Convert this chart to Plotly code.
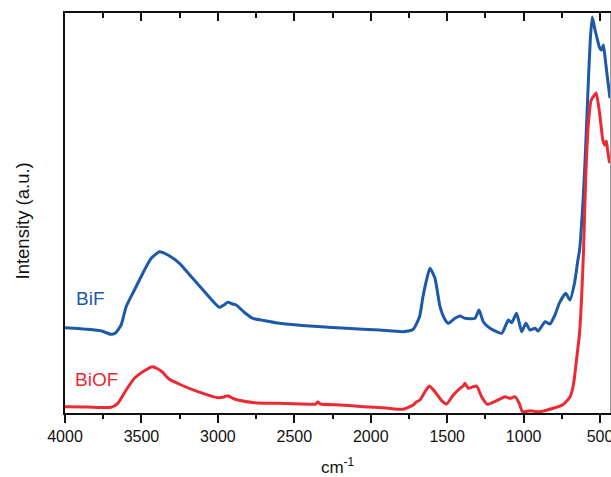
import plotly.graph_objects as go

# ---- data (wavenumber cm-1, intensity a.u.) ----
bif_wn = [4000, 3852, 3760, 3700, 3670, 3633, 3600, 3546, 3480, 3436, 3382, 3327, 3251, 3174,
          3087, 2990, 2960, 2935, 2905, 2880, 2826, 2771, 2700, 2597, 2450, 2346, 2160, 1943,
          1790, 1722, 1681, 1660, 1645, 1613, 1580, 1547, 1520, 1493, 1449, 1416, 1384, 1318,
          1292, 1264, 1220, 1143, 1100, 1078, 1046, 1013, 985, 959, 926, 904, 860, 828, 795,
          767, 725, 697, 667, 645, 634, 611, 595, 577, 564, 551, 533, 515, 505, 490, 478, 467,
          450, 435]
bif_int = [85.3, 83.7, 82, 78.7, 80, 88, 106.3, 123, 143, 154.7, 161.3, 158, 149.7, 136.3,
           121.3, 105.7, 108, 110.7, 109, 108, 100.5, 94.7, 92.5, 89.7, 87.5, 86.5, 84.7, 83,
           81.3, 83.7, 96.3, 115, 126.3, 144.7, 134.7, 106.3, 95, 89.7, 94.7, 97, 94.7, 94.7,
           103, 91.3, 84.7, 79.7, 93, 90.3, 99.7, 81.3, 89.7, 83, 84.7, 82, 91.3, 89, 98,
           109.7, 119.7, 113, 130, 153, 163, 213, 263, 330, 373, 396, 383, 372, 366, 363, 368,
           355, 333, 315]

biof_wn = [4000, 3850, 3700, 3654, 3600, 3546, 3491, 3426, 3371, 3317, 3240, 3131, 3000, 2960,
           2935, 2900, 2869, 2760, 2600, 2360, 2346, 2330, 2200, 2049, 1900, 1790, 1722, 1702,
           1678, 1645, 1617, 1580, 1536, 1504, 1460, 1416, 1395, 1384, 1362, 1308, 1275, 1238,
           1177, 1122, 1089, 1057, 1029, 1007, 959, 893, 807, 741, 697, 680, 667, 655, 634,
           620, 608, 595, 578, 558, 536, 525, 503, 482, 470, 459, 451, 438]
biof_int = [6.3, 6, 5.7, 9.7, 23, 34.7, 41.3, 46.3, 42, 33.7, 28, 21.3, 15.3, 16,
            17.3, 14.5, 13, 10.3, 9.7, 9, 11, 9, 8, 6.3, 5, 3.7, 8, 11,
            13, 21.3, 27, 21.3, 12.3, 9, 18, 24.7, 27, 29.7, 24.7, 27, 16.3, 8.7,
            12.3, 16.3, 14.7, 16.3, 9.7, 1.3, 2.3, 1.3, 4.7, 8.5, 16, 24, 36, 52, 80,
            118, 163, 230, 286, 313, 318, 320, 300, 273, 268, 272, 263, 250]

labels = ["BiF", "BiOF"]
label_wn = [3834, 3792]
label_int = [115, 34]

BLUE = "#1c59a8"
RED = "#ec2a34"
FONT = "Liberation Sans, Arial, sans-serif"
X_RANGE = [4000, 435]
Y_RANGE = [0, 400]

fig = go.Figure()
fig.add_trace(go.Scatter(x=bif_wn, y=bif_int, mode="lines",
                         line=dict(color=BLUE, width=3, shape="spline", smoothing=0.5),
                         name="BiF", showlegend=False))
fig.add_trace(go.Scatter(x=biof_wn, y=biof_int, mode="lines",
                         line=dict(color=RED, width=3, shape="spline", smoothing=0.5),
                         name="BiOF", showlegend=False))
# helper trace so the top/right frame axes are drawn
fig.add_trace(go.Scatter(x=bif_wn[:2], y=bif_int[:2], mode="lines", xaxis="x2", yaxis="y2",
                         line=dict(width=0, color="rgba(0,0,0,0)"), hoverinfo="skip",
                         showlegend=False))

for t, xv, yv, c in zip(labels, label_wn, label_int, [BLUE, RED]):
    fig.add_annotation(x=xv, y=yv, text=t, showarrow=False, xanchor="center", yanchor="middle",
                       font=dict(family=FONT, size=19, color=c))

# y-axis title
fig.add_annotation(xref="paper", yref="paper", x=-0.078, y=0.48, text="Intensity (a.u.)",
                   textangle=-90, showarrow=False, xanchor="center", yanchor="middle",
                   font=dict(family=FONT, size=18.5, color="#111"))

fig.update_layout(
    width=611, height=477,
    margin=dict(l=65, r=1, t=13, b=64),
    paper_bgcolor="white", plot_bgcolor="white",
    font=dict(family=FONT, color="#111"),
    xaxis=dict(range=X_RANGE, tick0=0, dtick=500, showgrid=False, zeroline=False,
               automargin=False, ticklabeloverflow="allow",
               showline=True, linecolor="#111", linewidth=1.5,
               ticks="outside", ticklen=8, tickwidth=1.5, tickcolor="#111",
               minor=dict(dtick=250, tick0=0, ticks="outside", ticklen=4, tickwidth=1.5,
                          tickcolor="#111", showgrid=False),
               tickfont=dict(size=16, family=FONT, color="#111"),
               title=dict(text="cm<sup>-1</sup>", font=dict(size=17, family=FONT, color="#111"),
                          standoff=17)),
    xaxis2=dict(range=X_RANGE, overlaying="x", side="top", matches="x", tick0=0, dtick=500,
                automargin=False,
                showgrid=False, zeroline=False, showline=True, linecolor="#111", linewidth=1.5,
                ticks="inside", ticklen=8, tickwidth=1.5, tickcolor="#111", showticklabels=False,
                minor=dict(dtick=250, tick0=0, ticks="inside", ticklen=5.5, tickwidth=1.5,
                           tickcolor="#111", showgrid=False)),
    yaxis=dict(range=Y_RANGE, showgrid=False, zeroline=False, showline=True, linecolor="#111",
               automargin=False,
               linewidth=1.5, ticks="", showticklabels=False),
    yaxis2=dict(range=Y_RANGE, overlaying="y", side="right", matches="y", showgrid=False,
                automargin=False,
                zeroline=False, showline=True, linecolor="#9a9a9a", linewidth=1, ticks="",
                showticklabels=False),
)

fig.write_html("out.html", config={"displayModeBar": False},
               post_script="document.body.style.margin='0';document.body.style.overflow='hidden';")
